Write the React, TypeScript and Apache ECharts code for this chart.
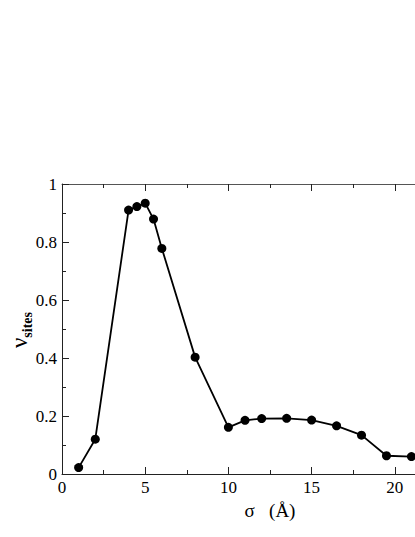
import React, { useEffect, useRef } from "react";
import * as echarts from "echarts";

const sigma = [1, 2, 4, 4.5, 5, 5.5, 6, 8, 10, 11, 12, 13.5, 15, 16.5, 18, 19.5, 21];
const nuSites = [0.022, 0.12, 0.91, 0.922, 0.934, 0.879, 0.778, 0.403, 0.161, 0.185, 0.191, 0.192, 0.186, 0.166, 0.134, 0.063, 0.06];
const xTickLabels = ["0", "5", "10", "15", "20"];
const xTitle = "σ   (Å)";
const yTitleMain = "ν";
const yTitleSub = "sites";

const FONT = "Liberation Serif, Times New Roman, serif";

export default function App() {
  const ref = useRef<HTMLDivElement>(null);
  useEffect(() => {
    document.documentElement.style.overflow = "hidden";
    document.body.style.overflow = "hidden";
    document.body.style.margin = "0";
    if (!ref.current) return;
    const chart = echarts.init(ref.current, null, { renderer: "svg" });
    const axisLine = { show: true, lineStyle: { color: "#222", width: 1 } };
    chart.setOption({
      animation: false,
      backgroundColor: "#fff",
      grid: { left: 62, top: 184, width: 416, height: 290, containLabel: false, outerBoundsMode: "none" },
      xAxis: [
        {
          type: "value",
          min: 0,
          max: 25,
          interval: 5,
          position: "bottom",
          axisLine,
          axisTick: { show: true, inside: true, length: 7, lineStyle: { color: "#222" } },
          minorTick: { show: true, splitNumber: 2, length: 4, lineStyle: { color: "#222" } },
          splitLine: { show: false },
          axisLabel: {
            fontFamily: FONT,
            fontSize: 17,
            color: "#000",
            margin: 5,
            showMaxLabel: false,
            formatter: (v: number) => (xTickLabels.includes(String(v)) ? String(v) : ""),
          },
          name: xTitle,
          nameLocation: "middle",
          nameGap: 23,
          nameTextStyle: { fontFamily: FONT, fontSize: 19, color: "#000" },
        },
        {
          type: "value",
          min: 0,
          max: 25,
          interval: 5,
          position: "top",
          axisLine: { show: true, lineStyle: { color: "#555", width: 1 } },
          axisTick: { show: true, inside: true, length: 7, lineStyle: { color: "#222" } },
          minorTick: { show: true, splitNumber: 2, length: 4, lineStyle: { color: "#222" } },
          splitLine: { show: false },
          axisLabel: { show: false },
        },
      ],
      yAxis: {
        type: "value",
        min: 0,
        max: 1,
        interval: 0.2,
        axisLine,
        axisTick: { show: true, inside: true, length: 7, lineStyle: { color: "#222" } },
        minorTick: { show: true, splitNumber: 2, length: 4, lineStyle: { color: "#222" } },
        splitLine: { show: false },
        axisLabel: {
          fontFamily: FONT,
          fontSize: 17,
          color: "#000",
          margin: 5,
          formatter: (v: number) => (v === 0 ? "0" : v === 1 ? "1" : String(Number(v.toFixed(1)))),
        },
      },
      graphic: [
        {
          type: "text",
          x: 21,
          y: 330,
          rotation: Math.PI / 2,
          style: {
            text: `{a|${yTitleMain}}{b|${yTitleSub}}`,
            align: "center",
            verticalAlign: "middle",
            rich: {
              a: { fontFamily: FONT, fontSize: 23, fill: "#000", lineHeight: 26, verticalAlign: "top" },
              b: { fontFamily: FONT, fontSize: 14, fontWeight: "bold", fill: "#000", lineHeight: 26, verticalAlign: "bottom", padding: [12, 0, 0, 0] },
            },
          },
        },
      ],
      series: [
        {
          type: "line",
          data: sigma.map((x, i) => [x, nuSites[i]]),
          symbol: "circle",
          symbolSize: 9,
          itemStyle: { color: "#000" },
          lineStyle: { color: "#000", width: 1.8 },
        },
      ],
    });
    return () => chart.dispose();
  }, []);
  return <div ref={ref} style={{ position: "fixed", left: 0, top: 0, width: 415, height: 537 }} />;
}
